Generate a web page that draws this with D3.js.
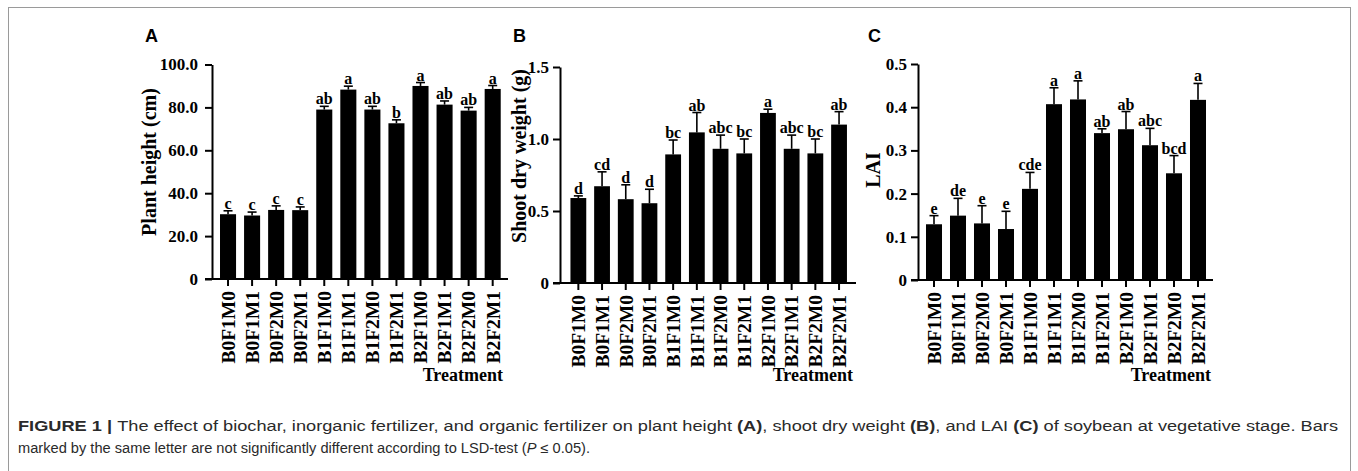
<!DOCTYPE html>
<html>
<head>
<meta charset="utf-8">
<script src="https://cdn.jsdelivr.net/npm/d3@7"></script>
<style>
  body { margin: 0; background: #fff; }
  svg { display: block; }
  .serif { font-family: "Liberation Serif", "Times New Roman", serif; font-weight: bold; }
</style>
</head>
<body>
<svg id="chart" width="1358" height="471"></svg>
<script>
// treatments and values
let treatments = ['B0F1M0', 'B0F1M1', 'B0F2M0', 'B0F2M1', 'B1F1M0', 'B1F1M1',
                  'B1F2M0', 'B1F2M1', 'B2F1M0', 'B2F1M1', 'B2F2M0', 'B2F2M1']

let heightMean = [30.2, 29.6, 32.2, 32.1, 79.0, 88.3, 79.0, 72.6, 90.0, 81.3, 78.5, 88.6]
let heightErr = [1.6, 1.6, 1.9, 1.5, 1.5, 1.6, 1.5, 1.6, 1.6, 1.7, 1.5, 1.6]
let heightLetters = ['c', 'c', 'c', 'c', 'ab', 'a', 'ab', 'b', 'a', 'ab', 'ab', 'a']
let heightTicks = [0, 20, 40, 60, 80, 100]

let weightMean = [0.59, 0.672, 0.582, 0.554, 0.893, 1.046, 0.932, 0.90, 1.181, 0.932, 0.90, 1.10]
let weightErr = [0.015, 0.10, 0.10, 0.097, 0.10, 0.138, 0.095, 0.10, 0.026, 0.095, 0.10, 0.09]
let weightLetters = ['d', 'cd', 'd', 'd', 'bc', 'ab', 'abc', 'bc', 'a', 'abc', 'bc', 'ab']
let weightTicks = [0, 0.5, 1.0, 1.5]

let laiMean = [0.129, 0.149, 0.131, 0.118, 0.211, 0.407, 0.418, 0.34, 0.349, 0.312, 0.247, 0.417]
let laiErr = [0.02, 0.04, 0.041, 0.041, 0.038, 0.038, 0.043, 0.01, 0.041, 0.039, 0.041, 0.038]
let laiLetters = ['e', 'de', 'e', 'e', 'cde', 'a', 'a', 'ab', 'ab', 'abc', 'bcd', 'a']
let laiTicks = [0, 0.1, 0.2, 0.3, 0.4, 0.5]

let svg = d3.select('#chart')

// outer frame
svg.append('rect')
    .attr('x', 8.5).attr('y', 7.5)
    .attr('width', 1342).attr('height', 470)
    .attr('fill', 'none')
    .attr('stroke', '#9a9a9a')
    .attr('stroke-width', 1)

let panels = [
    { label: 'A', title: 'Plant height (cm)', mean: heightMean, err: heightErr, letters: heightLetters,
      ticks: heightTicks, fmt: (d) => d === 0 ? '0' : d.toFixed(1),
      axisX: 212, y0: 279, yTop: 64.5, start: 216, step: 24.06, xEnd: 508, pad: 7,
      titleX: 156, titleY: 162, labelX: 145, treatX: 503 },
    { label: 'B', title: 'Shoot dry weight (g)', mean: weightMean, err: weightErr, letters: weightLetters,
      ticks: weightTicks, fmt: (d) => d === 0 ? '0' : d.toFixed(1),
      axisX: 560, y0: 283, yTop: 67, start: 566.5, step: 23.7, xEnd: 856, pad: 4,
      titleX: 526, titleY: 156, labelX: 513, treatX: 853 },
    { label: 'C', title: 'LAI', mean: laiMean, err: laiErr, letters: laiLetters,
      ticks: laiTicks, fmt: (d) => d === 0 ? '0' : d.toFixed(1),
      axisX: 918, y0: 280, yTop: 64, start: 922, step: 24, xEnd: 1213, pad: 4,
      titleX: 880, titleY: 170, labelX: 868, treatX: 1211 }
]

let drawPanel = (p) => {
    let g = svg.append('g')
    let n = treatments.length

    let x = d3.scaleBand()
        .domain(treatments)
        .range([p.start, p.start + p.step * n])
        .paddingInner(0.333)
        .paddingOuter(0.1665)

    let y = d3.scaleLinear()
        .domain([0, d3.max(p.ticks)])
        .range([p.y0, p.yTop])

    // bars
    g.selectAll('rect.bar')
        .data(treatments)
        .enter()
        .append('rect')
        .attr('class', 'bar')
        .attr('x', (d) => x(d))
        .attr('width', x.bandwidth())
        .attr('y', (d, i) => y(p.mean[i]))
        .attr('height', (d, i) => y(0) - y(p.mean[i]))
        .attr('fill', '#000')

    // error bars (upper only)
    let errG = g.selectAll('g.err')
        .data(treatments)
        .enter()
        .append('g')
        .attr('class', 'err')
        .attr('transform', (d) => 'translate(' + (x(d) + x.bandwidth() / 2) + ',0)')

    errG.append('line')
        .attr('x1', 0).attr('x2', 0)
        .attr('y1', (d, i) => y(p.mean[i]))
        .attr('y2', (d, i) => y(p.mean[i] + p.err[i]))
        .attr('stroke', '#000')
        .attr('stroke-width', 1.6)

    errG.append('line')
        .attr('x1', -4.5).attr('x2', 4.5)
        .attr('y1', (d, i) => y(p.mean[i] + p.err[i]))
        .attr('y2', (d, i) => y(p.mean[i] + p.err[i]))
        .attr('stroke', '#000')
        .attr('stroke-width', 1.6)

    errG.append('text')
        .attr('class', 'serif')
        .attr('text-anchor', 'middle')
        .attr('y', (d, i) => y(p.mean[i] + p.err[i]) - 2)
        .attr('font-size', 16)
        .text((d, i) => p.letters[i])

    // y axis
    let yAxis = g.append('g')
        .attr('transform', 'translate(' + p.axisX + ',0)')
        .call(d3.axisLeft(y).tickValues(p.ticks).tickFormat(p.fmt).tickSize(7).tickSizeOuter(0).tickPadding(p.pad))
    yAxis.select('.domain').attr('stroke-width', 2)
    yAxis.selectAll('.tick line').attr('stroke-width', 2)
    yAxis.selectAll('.tick text')
        .attr('class', 'serif')
        .attr('font-size', 17)
        .attr('fill', '#000')

    // x axis
    let xAxis = g.append('g')
        .attr('transform', 'translate(0,' + p.y0 + ')')
        .call(d3.axisBottom(x).tickSize(7).tickSizeOuter(0))
    xAxis.select('.domain').remove()
    xAxis.append('line')
        .attr('x1', p.axisX - 7).attr('x2', p.xEnd)
        .attr('y1', 0).attr('y2', 0)
        .attr('stroke', '#000')
        .attr('stroke-width', 2)
    xAxis.selectAll('.tick line').attr('stroke-width', 2)
    xAxis.selectAll('.tick text')
        .attr('class', 'serif')
        .attr('font-size', 19.5)
        .attr('fill', '#000')
        .attr('text-anchor', 'end')
        .attr('transform', 'rotate(-90)')
        .attr('x', -12)
        .attr('y', 0)
        .attr('dy', '0.35em')

    // axis titles
    g.append('text')
        .attr('class', 'serif')
        .attr('font-size', 20)
        .attr('text-anchor', 'middle')
        .attr('transform', 'translate(' + p.titleX + ',' + p.titleY + ') rotate(-90)')
        .text(p.title)

    g.append('text')
        .attr('class', 'serif')
        .attr('font-size', 18)
        .attr('text-anchor', 'end')
        .attr('x', p.treatX)
        .attr('y', 381)
        .text('Treatment')

    // panel letter
    g.append('text')
        .attr('x', p.labelX)
        .attr('y', 42)
        .attr('font-family', '"Liberation Sans", Arial, sans-serif')
        .attr('font-weight', 'bold')
        .attr('font-size', 18)
        .text(p.label)
}

panels.forEach(drawPanel)

// caption
let cap = svg.append('g')
    .attr('font-family', '"Liberation Sans", Arial, sans-serif')
    .attr('font-size', 14)
    .attr('fill', '#2a2a2a')

let line1 = cap.append('text')
    .attr('x', 18).attr('y', 431)
    .attr('textLength', 1320)
    .attr('lengthAdjust', 'spacingAndGlyphs')
line1.append('tspan').attr('font-weight', 'bold').text('FIGURE 1 | ')
line1.append('tspan').text('The effect of biochar, inorganic fertilizer, and organic fertilizer on plant height ')
line1.append('tspan').attr('font-weight', 'bold').text('(A)')
line1.append('tspan').text(', shoot dry weight ')
line1.append('tspan').attr('font-weight', 'bold').text('(B)')
line1.append('tspan').text(', and LAI ')
line1.append('tspan').attr('font-weight', 'bold').text('(C)')
line1.append('tspan').text(' of soybean at vegetative stage. Bars')

let line2 = cap.append('text')
    .attr('x', 18).attr('y', 453)
    .attr('textLength', 572)
    .attr('lengthAdjust', 'spacingAndGlyphs')
line2.append('tspan').text('marked by the same letter are not significantly different according to LSD-test (')
line2.append('tspan').attr('font-style', 'italic').text('P')
line2.append('tspan').text(' ≤ 0.05).')
</script>
</body>
</html>
